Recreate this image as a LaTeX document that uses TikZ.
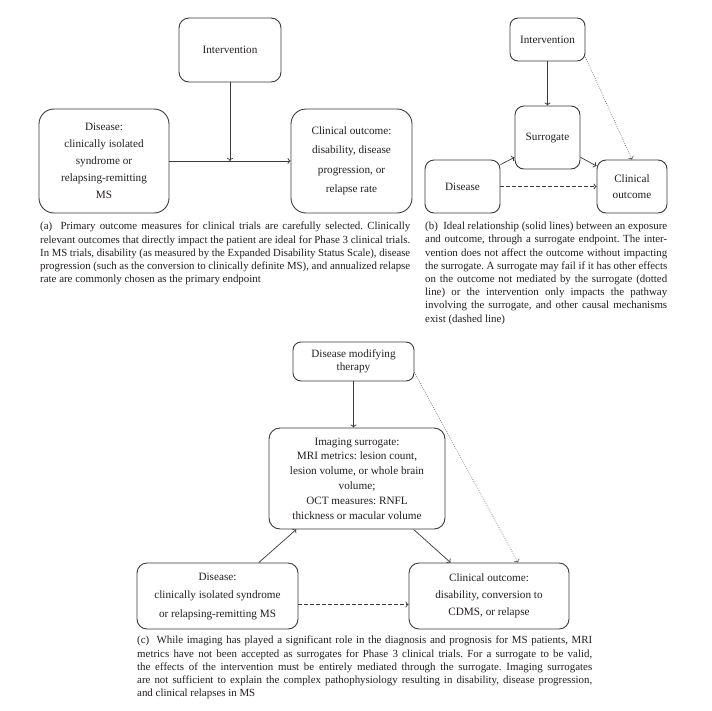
\documentclass[tikz,border=0pt]{standalone}
\usepackage{fontspec}
\setmainfont{Liberation Serif}
\usetikzlibrary{arrows.meta}
\definecolor{linec}{HTML}{3A3A3A}
\definecolor{txtc}{HTML}{231F20}
\newsavebox\lnbox
\newcommand\capline[2]{\sbox\lnbox{#2}\ifdim\wd\lnbox>#1\relax\resizebox{#1}{\height}{\usebox\lnbox}\else\makebox[#1][s]{#2}\fi}
\frenchspacing
\begin{document}
\begin{tikzpicture}[x=1pt,y=-1pt,
  box/.style={draw=linec, line width=0.9pt, rounded corners=#1, align=center, inner sep=0pt, text=txtc},
  box/.default=8pt,
  conn/.style={draw=linec, line width=0.7pt, -{To[length=3pt,width=6pt]}},
  dashconn/.style={conn, dash pattern=on 3.5pt off 2.5pt},
  dotconn/.style={conn, line width=0.5pt, dash pattern=on 0.7pt off 1.4pt},
  captext/.style={anchor=north west, inner sep=0pt, align=left, text=txtc, font=\fontsize{10.9}{13.2}\selectfont},
  bt/.style={font=\fontsize{11.2}{#1}\selectfont},
  bt/.default=17pt]
\useasboundingbox (0,0) rectangle (712,710);
\fill[white] (0,0) rectangle (712,710);

% ---------- panel (a)
\node[box=10pt, minimum width=102pt, minimum height=64pt, bt] (intA) at (230,50) {Intervention};
\node[box=15pt, minimum width=130pt, minimum height=104pt, bt=17pt] (disA) at (104,161)
  {Disease:\\ clinically isolated\\ syndrome or\\ relapsing-remitting\\ MS};
\node[box=15pt, minimum width=121pt, minimum height=104pt, bt=19.5pt] (cloA) at (351.5,161)
  {Clinical outcome:\\ disability, disease\\ progression, or\\ relapse rate};
\coordinate (meetA) at (intA.south |- disA.east);
\draw[conn] (disA.east) -- (cloA.west);
\draw[conn] (intA.south) -- (meetA);

\node[captext] (capa) at (40,222) {%
\capline{370pt}{(a)\ \ Primary outcome measures for clinical trials are carefully selected. Clinically}\\
\capline{370pt}{relevant outcomes that directly impact the patient are ideal for Phase 3 clinical trials.}\\
\capline{370pt}{In MS trials, disability (as measured by the Expanded Disability Status Scale), disease}\\
\capline{370pt}{progression (such as the conversion to clinically definite MS), and annualized relapse}\\
rate are commonly chosen as the primary endpoint};

% ---------- panel (b)
\node[box=8pt, minimum width=75pt, minimum height=43pt, bt] (intB) at (547.5,39.5) {Intervention};
\node[box=9pt, minimum width=65pt, minimum height=63pt, bt] (surB) at (547.5,137.5) {Surrogate};
\node[box=9pt, minimum width=75pt, minimum height=53pt, bt] (disB) at (462.5,186.5) {Disease};
\node[box=9pt, minimum width=70pt, minimum height=53pt, bt=16.5pt] (cloB) at (632,186.5) {Clinical\\ outcome};
\draw[conn] (intB.south) -- (surB.north);
\draw[conn] (disB.30) -- (surB.211);
\draw[conn] (surB.329) -- (cloB.150);
\draw[dashconn] (disB.east) -- (cloB.west);
\draw[dotconn] (intB.335) -- (cloB.north);

\node[captext] (capb) at (425,222) {%
\capline{242pt}{(b)\ \ Ideal relationship (solid lines) between an exposure}\\
\capline{242pt}{and outcome, through a surrogate endpoint. The inter-}\\
\capline{242pt}{vention does not affect the outcome without impacting}\\
\capline{242pt}{the surrogate. A surrogate may fail if it has other effects}\\
\capline{242pt}{on the outcome not mediated by the surrogate (dotted}\\
\capline{242pt}{line) or the intervention only impacts the pathway}\\
\capline{242pt}{involving the surrogate, and other causal mechanisms}\\
exist (dashed line)};

% ---------- panel (c)
\node[box=8pt, minimum width=121pt, minimum height=39pt, bt=13pt] (dmt) at (353.5,361.5) {Disease modifying\\ therapy};
\node[box=11pt, minimum width=176pt, minimum height=101pt, bt=14.8pt] (img) at (357,478.5)
  {Imaging surrogate:\\ MRI metrics: lesion count,\\ lesion volume, or whole brain\\ volume;\\ OCT measures: RNFL\\ thickness or macular volume};
\node[box=10pt, minimum width=161pt, minimum height=66pt, bt=18.5pt] (disC) at (217.5,596)
  {Disease:\\ clinically isolated syndrome\\ or relapsing-remitting MS};
\node[box=10pt, minimum width=160pt, minimum height=66pt, bt=17pt] (cloC) at (489,596)
  {Clinical outcome:\\ disability, conversion to\\ CDMS, or relapse};
\draw[conn] (dmt.south) -- (dmt.south |- img.north);
\draw[conn] (disC.39) -- (img.220);
\draw[conn] (img.318) -- (cloC.139);
\coordinate (dashC) at (disC.354.3);
\draw[dashconn] (dashC) -- (dashC -| cloC.west);
\draw[dotconn] (dmt.350) -- (cloC.49);

\node[captext] (capc) at (137,636) {%
\capline{455pt}{(c)\ \ While imaging has played a significant role in the diagnosis and prognosis for MS patients, MRI}\\
\capline{455pt}{metrics have not been accepted as surrogates for Phase 3 clinical trials. For a surrogate to be valid,}\\
\capline{455pt}{the effects of the intervention must be entirely mediated through the surrogate. Imaging surrogates}\\
\capline{455pt}{are not sufficient to explain the complex pathophysiology resulting in disability, disease progression,}\\
and clinical relapses in MS};
\end{tikzpicture}
\end{document}
